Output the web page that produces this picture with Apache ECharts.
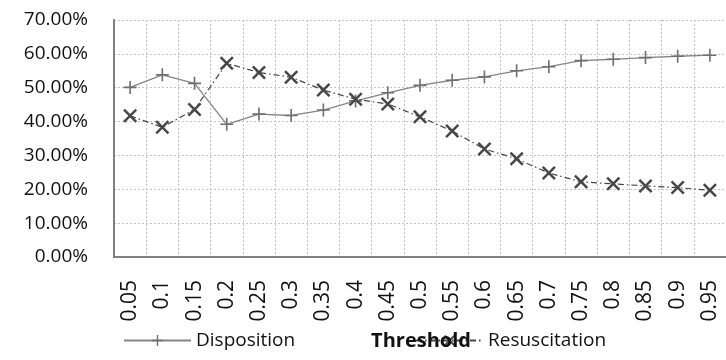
<!DOCTYPE html>
<html>
<head>
<meta charset="utf-8">
<script src="https://cdn.jsdelivr.net/npm/echarts@6/dist/echarts.min.js"></script>
<style>
  html, body { margin: 0; padding: 0; background: #fff; }
  #chart { width: 726px; height: 360px; }
</style>
</head>
<body>
<div id="chart"></div>
<script>
// Threshold values on the category axis
const thresholds = ['0.05', '0.1', '0.15', '0.2', '0.25', '0.3', '0.35', '0.4', '0.45', '0.5',
                    '0.55', '0.6', '0.65', '0.7', '0.75', '0.8', '0.85', '0.9', '0.95'];

// Percentages per threshold
const disposition = [50.1, 53.8, 51.3, 39.2, 42.2, 41.8, 43.4, 46.1, 48.5, 50.7,
                     52.2, 53.2, 55.0, 56.2, 58.0, 58.4, 58.9, 59.3, 59.6];
const resuscitation = [41.7, 38.3, 43.6, 57.2, 54.5, 53.1, 49.3, 46.6, 45.2, 41.4,
                       37.2, 31.9, 29.0, 24.8, 22.2, 21.6, 21.0, 20.5, 19.7];

// Marker shapes: a thin plus and a thin cross
const plusPath = 'path://M10.5,0 H13.5 V10.5 H24 V13.5 H13.5 V24 H10.5 V13.5 H0 V10.5 H10.5 Z';
const crossPath = 'path://M3,0 L12,9 L21,0 L24,3 L15,12 L24,21 L21,24 L12,15 L3,24 L0,21 L9,12 L0,3 Z';

const FONT = '"Open Sans", sans-serif';

const chart = echarts.init(document.getElementById('chart'), null, { renderer: 'canvas' });

chart.setOption({
  animation: false,
  backgroundColor: '#ffffff',
  grid: { left: 114, top: 20, width: 615, bottom: 103, containLabel: false },
  legend: [
    {
      data: ['Disposition'],
      left: 123, top: 331, padding: 0,
      itemWidth: 67, itemHeight: 14, itemGap: 0,
      textStyle: { fontFamily: FONT, fontSize: 19, color: '#111' }
    },
    {
      data: ['Resuscitation'],
      left: 415, top: 331, padding: 0,
      itemWidth: 67, itemHeight: 14, itemGap: 0,
      textStyle: { fontFamily: FONT, fontSize: 19, color: '#111' }
    }
  ],
  xAxis: {
    type: 'category',
    data: thresholds,
    boundaryGap: true,
    axisLine: { show: true, lineStyle: { color: '#808080', width: 2 } },
    axisTick: { show: false },
    axisLabel: {
      rotate: 90, margin: 23, interval: 0,
      fontFamily: FONT, fontSize: 21, color: '#111'
    },
    splitLine: { show: true, interval: 0, lineStyle: { color: '#c4c4c4', width: 1, type: [2, 2] } }
  },
  yAxis: {
    type: 'value',
    min: 0, max: 70, interval: 10,
    axisLine: { show: true, lineStyle: { color: '#808080', width: 2 } },
    axisTick: { show: false },
    axisLabel: {
      margin: 26,
      fontFamily: FONT, fontSize: 19, color: '#111',
      formatter: v => v.toFixed(2) + '%'
    },
    splitLine: { show: true, lineStyle: { color: '#c4c4c4', width: 1, type: [2, 2] } }
  },
  // Axis title placed freely, above the legend
  title: {
    text: 'Threshold',
    left: 421, top: 331, textAlign: 'center', padding: 0,
    textStyle: { fontFamily: FONT, fontSize: 20, fontWeight: 'bold', color: '#111' },
    z: 10
  },
  series: [
    {
      name: 'Disposition',
      type: 'line',
      data: disposition,
      symbol: plusPath,
      symbolSize: 13,
      itemStyle: { color: '#707070' },
      lineStyle: { color: '#858585', width: 1.3, type: 'solid' },
      z: 3
    },
    {
      name: 'Resuscitation',
      type: 'line',
      data: resuscitation,
      symbol: crossPath,
      symbolSize: 14,
      itemStyle: { color: '#474747' },
      lineStyle: { color: '#454545', width: 1.2, type: [6, 3, 1.5, 3] },
      z: 4
    }
  ]
});
</script>
</body>
</html>
